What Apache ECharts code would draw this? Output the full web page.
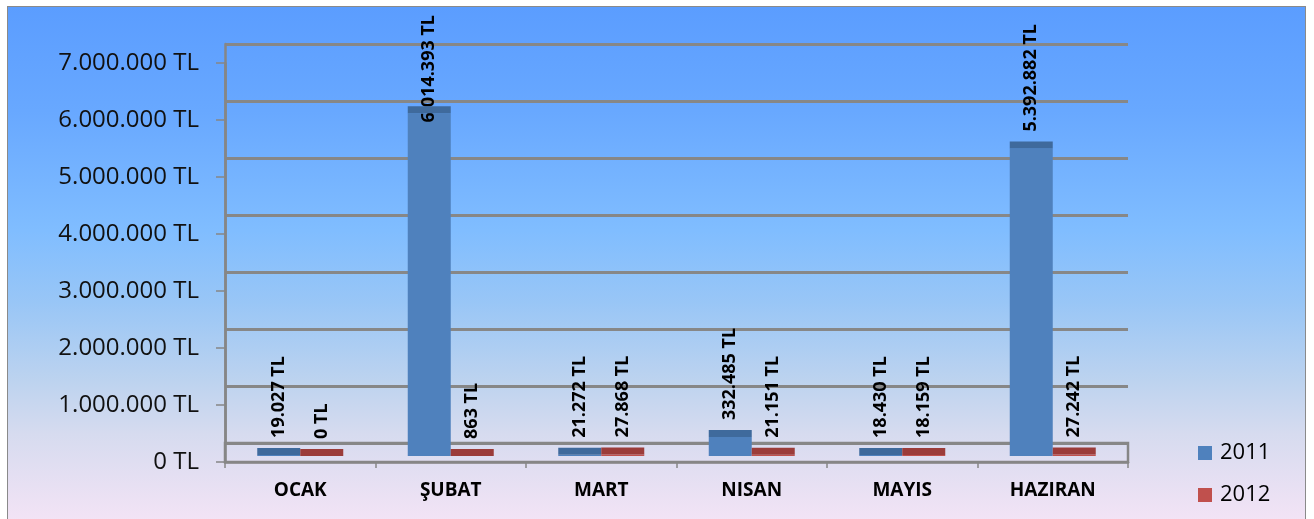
<!DOCTYPE html>
<html><head><meta charset="utf-8">
<script src="https://cdn.jsdelivr.net/npm/echarts@6/dist/echarts.min.js"></script>
<style>
html,body{margin:0;padding:0;background:#fff;overflow:hidden;}
#bg{position:absolute;left:7px;top:6px;width:1297px;height:520px;border:1.5px solid #8a8a8a;
background:linear-gradient(to bottom,#5b9dff 0%,#68a8ff 20%,#80bdff 43%,#99c6f6 57%,#bdd3ef 72%,#d6dbef 82%,#f5e4f6 100%);}
#chart{position:absolute;left:0;top:0;width:1314px;height:519px;}
</style></head>
<body><div id="bg"></div><div id="chart"></div>
<script>
const categories = ['OCAK', 'ŞUBAT', 'MART', 'NISAN', 'MAYIS', 'HAZIRAN'];
const values2011 = [19027, 6014393, 21272, 332485, 18430, 5392882];
const values2012 = [0, 863, 27868, 21151, 18159, 27242];
const seriesNames = ['2011', '2012'];
const yMin = 0, yMax = 7000000, yStep = 1000000;

const FONT = 'Open Sans';
const GRAY = '#868686';
const LABEL_TOP_LIMIT = 15;
function fmt(v) { return String(v).replace(/\B(?=(\d{3})+(?!\d))/g, '.') + ' TL'; }

const L = 225, R = 186;
const chart = echarts.init(document.getElementById('chart'), null, {renderer: 'canvas'});

function barSeries(name, data, color) {
  return {
    name: name, type: 'bar', xAxisIndex: 3, yAxisIndex: 3, data: data,
    barWidth: 43, barGap: '0%', z: 3,
    itemStyle: {color: color},
    label: {
      show: true, position: 'top', distance: 17, rotate: 90, align: 'left', verticalAlign: 'middle',
      formatter: p => fmt(p.value), fontSize: 18, fontWeight: 'bold', color: '#000', fontFamily: FONT
    },
    // label offset is applied in the rotated text frame: negative dx moves the text down on screen
    labelLayout: function (p) {
      const r = p.labelRect;
      if (r.y < LABEL_TOP_LIMIT) return {dx: -(LABEL_TOP_LIMIT - r.y)};
      return {};
    }
  };
}
function topFace(name, data, color) {
  return {
    name: name, type: 'pictorialBar', xAxisIndex: 3, yAxisIndex: 3, data: data,
    barWidth: 43, barGap: '0%', z: 4, silent: true,
    symbol: 'rect', symbolSize: [43, 7], symbolPosition: 'end', symbolOffset: [0, '-100%'], symbolClip: false,
    itemStyle: {color: color}
  };
}

const option = {
  animation: false,
  backgroundColor: 'transparent',
  textStyle: {fontFamily: FONT},
  grid: [
    {left: L, right: R, top: 63, bottom: 57},
    {left: L, right: R, top: 44, bottom: 76},
    {left: L, right: R, top: 443, bottom: 57, show: true, borderColor: GRAY, borderWidth: 2.5, backgroundColor: 'transparent'},
    {left: L, right: R, top: 57, bottom: 63}
  ],
  xAxis: [
    {gridIndex: 0, type: 'category', data: categories,
     axisLine: {show: true, lineStyle: {color: GRAY, width: 2.5}},
     axisTick: {show: true, length: 6, lineStyle: {color: GRAY, width: 1.5}},
     axisLabel: {interval: 0, fontSize: 19, fontWeight: 'bold', color: '#000', margin: 19, fontFamily: FONT},
     splitLine: {show: false}},
    {gridIndex: 1, type: 'category', data: categories, show: false},
    {gridIndex: 2, type: 'category', data: categories, show: false},
    {gridIndex: 3, type: 'category', data: categories, show: false}
  ],
  yAxis: [
    {gridIndex: 0, type: 'value', min: yMin, max: yMax, interval: yStep,
     axisLine: {show: true, lineStyle: {color: GRAY, width: 2.5}},
     axisTick: {show: true, length: 9, lineStyle: {color: GRAY, width: 1.5}},
     axisLabel: {formatter: v => fmt(v), fontSize: 24, color: '#111', margin: 26, fontFamily: FONT},
     splitLine: {show: false}},
    {gridIndex: 1, type: 'value', min: yMin, max: yMax, interval: yStep,
     axisLine: {show: true, lineStyle: {color: GRAY, width: 2.5}},
     axisTick: {show: false}, axisLabel: {show: false},
     splitLine: {show: true, lineStyle: {color: '#878787', width: 3}}},
    {gridIndex: 2, type: 'value', show: false, splitLine: {show: false}},
    {gridIndex: 3, type: 'value', min: yMin, max: yMax, interval: yStep, show: false, splitLine: {show: false}}
  ],
  legend: {
    data: seriesNames, orient: 'vertical', left: 1198, top: 442, padding: 0,
    itemWidth: 14, itemHeight: 14, itemGap: 20, icon: 'rect',
    textStyle: {fontSize: 22, lineHeight: 22, color: '#000', fontFamily: FONT, padding: [0, 0, 0, 3]}
  },
  series: [
    barSeries(seriesNames[0], values2011, '#4f81bd'),
    barSeries(seriesNames[1], values2012, '#c0504d'),
    topFace('top2011', values2011, '#3f6a9c'),
    topFace('top2012', values2012, '#9b3c3a')
  ]
};
chart.setOption(option);
</script>
</body></html>
